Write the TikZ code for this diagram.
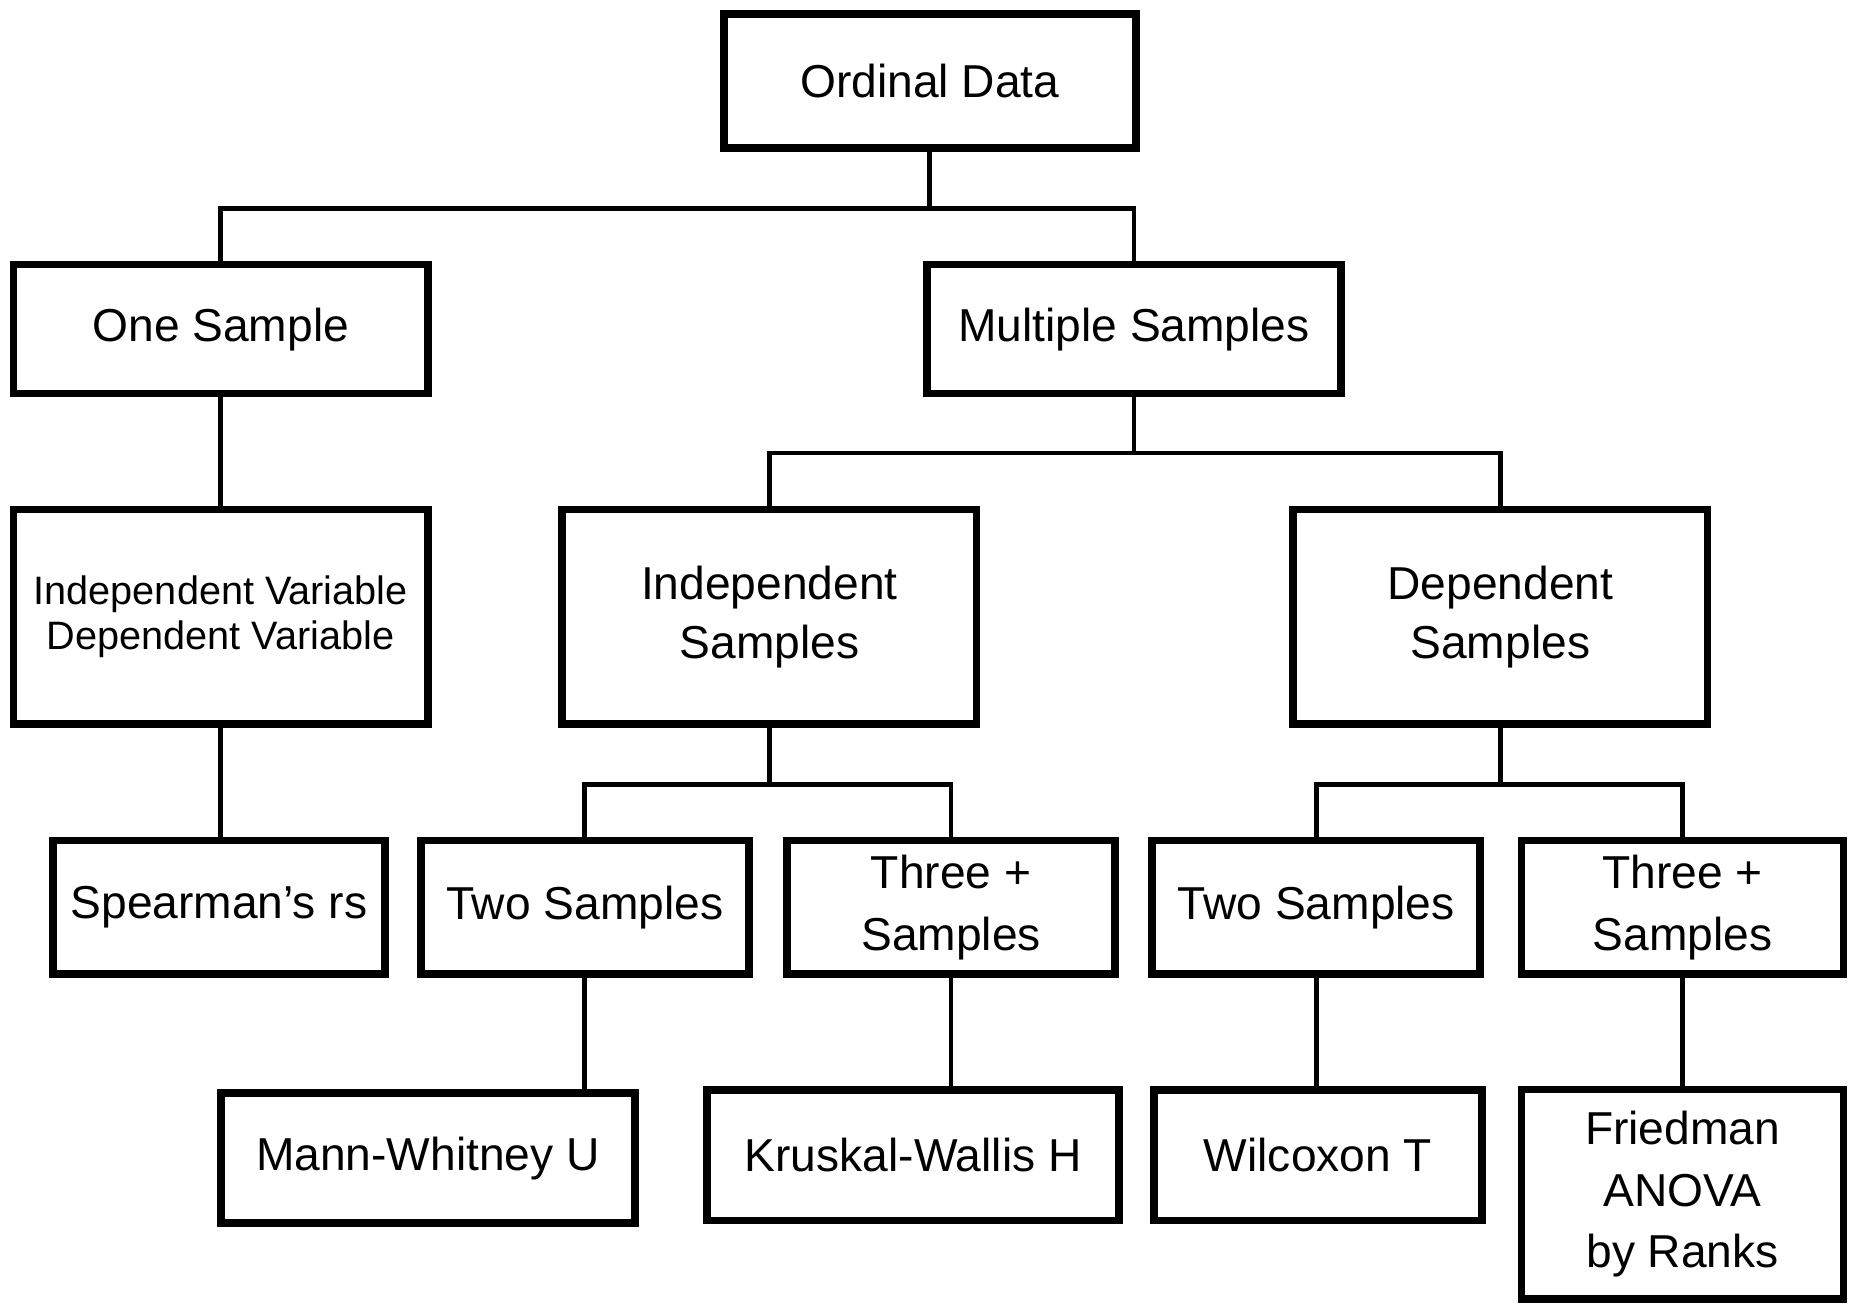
\documentclass[tikz,border=0pt]{standalone}
\usepackage{fontspec}
\setmainfont{Liberation Sans}
\usetikzlibrary{positioning, calc}

\begin{document}
\begin{tikzpicture}[
  x=1pt, y=-1pt,
  box/.style={rectangle, draw, line width=6.5pt, inner sep=0pt, align=center, font=\fontsize{39}{52}\selectfont},
  wide/.style={box, minimum width=350pt},
  slim/.style={box, minimum width=277pt},
  line/.style={line width=4pt}
]
  \useasboundingbox (0,0) rectangle (1568,1103);

  \node[wide, minimum width=348pt, minimum height=113pt] (ord) at (785.5,68.5) {Ordinal Data};

  \node[wide, minimum height=109pt] (one) at (186.5,278) {One Sample};
  \node[wide, minimum height=109pt] (multi) at (958,278) {Multiple Samples};

  \node[wide, minimum height=181pt, font=\fontsize{33.5}{38}\selectfont] (ivdv) at (186.5,521) {Independent Variable\\Dependent Variable};
  \node[wide, minimum height=181pt, font=\fontsize{39}{50}\selectfont] (ind) at (650,521) {Independent\\Samples};
  \node[wide, minimum height=181pt, font=\fontsize{39}{50}\selectfont] (dep) at (1267.5,521) {Dependent\\Samples};

  \node[slim, minimum width=280pt, minimum height=113pt] (spear) at (185,766.5) {Spearman’s rs};
  \node[slim, minimum height=113pt] (two1) at (494,766.5) {Two Samples};
  \node[slim, minimum height=113pt] (three1) at (803.5,766.5) {Three +\\Samples};
  \node[slim, minimum height=113pt] (two2) at (1112,766.5) {Two Samples};
  \node[slim, minimum width=272pt, minimum height=113pt] (three2) at (1421.5,766.5) {Three +\\Samples};

  \node[wide, minimum height=110pt] (mann) at (361.5,978.5) {Mann-Whitney U};
  \node[wide, minimum width=348pt, minimum height=110pt] (krus) at (771.5,976) {Kruskal-Wallis H};
  \node[slim, minimum height=110pt] (wil) at (1113.5,976) {Wilcoxon T};
  \node[slim, minimum width=272pt, minimum height=177pt] (fried) at (1421.5,1009) {Friedman\\ANOVA\\by Ranks};

  % tree connectors
  \coordinate (b1) at ($(ord.south)+(0,48)$);
  \draw[line] (ord.south) -- (b1);
  \draw[line] (one.north) |- (b1) -| (multi.north);

  \draw[line] (one.south) -- (one.south |- ivdv.north);
  \draw[line] (ivdv.south) -- (ivdv.south |- spear.north);

  \coordinate (b2) at ($(multi.south)+(0,47)$);
  \draw[line] (multi.south) -- (b2);
  \draw[line] (ind.north) |- (b2) -| (dep.north);

  \coordinate (b3) at ($(ind.south)+(0,48)$);
  \draw[line] (ind.south) -- (b3);
  \draw[line] (two1.north) |- (b3) -| (three1.north);

  \coordinate (b4) at ($(dep.south)+(0,48)$);
  \draw[line] (dep.south) -- (b4);
  \draw[line] (two2.north) |- (b4) -| (three2.north);

  \draw[line] (two1.south) -- (two1.south |- mann.north);
  \draw[line] (three1.south) -- (three1.south |- krus.north);
  \draw[line] (two2.south) -- (two2.south |- wil.north);
  \draw[line] (three2.south) -- (three2.south |- fried.north);
\end{tikzpicture}
\end{document}
